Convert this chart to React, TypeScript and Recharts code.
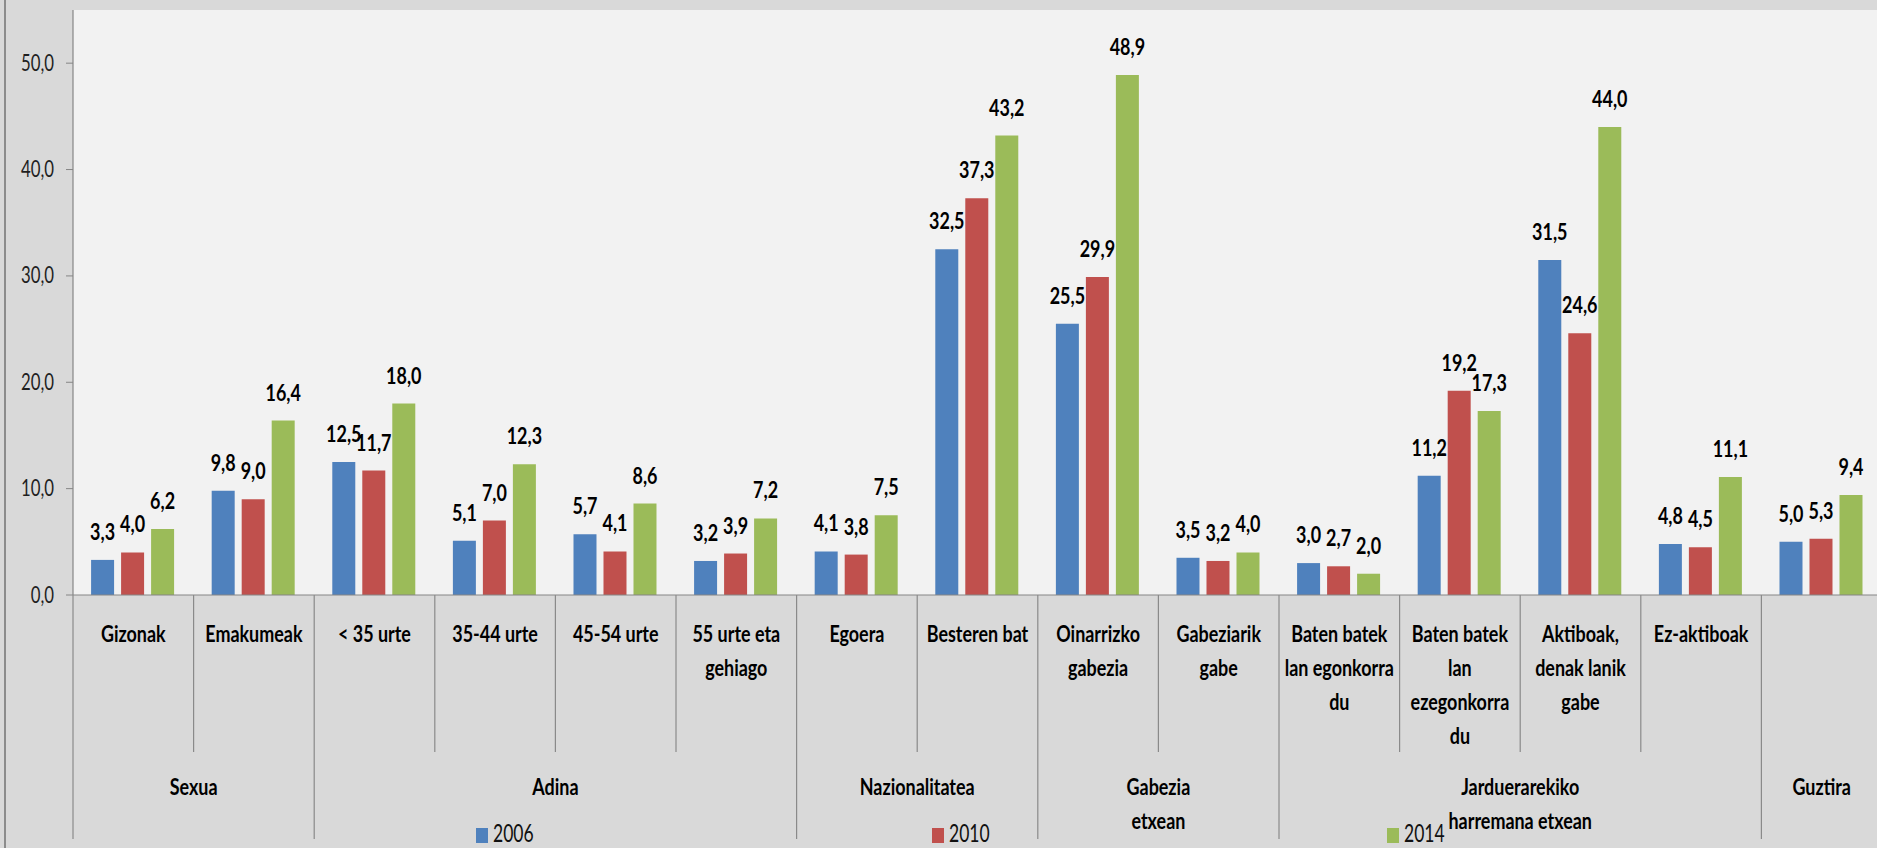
import React from 'react';
import { BarChart, Bar, XAxis, YAxis, CartesianGrid, LabelList } from 'recharts';

// ---------- data ----------
const categories = [
  'Gizonak',
  'Emakumeak',
  '< 35 urte',
  '35-44 urte',
  '45-54 urte',
  '55 urte eta gehiago',
  'Egoera',
  'Besteren bat',
  'Oinarrizko gabezia',
  'Gabeziarik gabe',
  'Baten batek lan egonkorra du',
  'Baten batek lan ezegonkorra du',
  'Aktiboak, denak lanik gabe',
  'Ez-aktiboak',
  '',
];
const categoryLines = [
  ['Gizonak'],
  ['Emakumeak'],
  ['< 35 urte'],
  ['35-44 urte'],
  ['45-54 urte'],
  ['55 urte eta', 'gehiago'],
  ['Egoera'],
  ['Besteren bat'],
  ['Oinarrizko', 'gabezia'],
  ['Gabeziarik', 'gabe'],
  ['Baten batek', 'lan egonkorra', 'du'],
  ['Baten batek', 'lan', 'ezegonkorra', 'du'],
  ['Aktiboak,', 'denak lanik', 'gabe'],
  ['Ez-aktiboak'],
  [''],
];
const groupLines = [
  ['Sexua'],
  ['Adina'],
  ['Nazionalitatea'],
  ['Gabezia', 'etxean'],
  ['Jarduerarekiko', 'harremana etxean'],
  ['Guztira'],
];
const groupSizes = [2, 4, 2, 2, 4, 1];

const v2006 = [3.3, 9.8, 12.5, 5.1, 5.7, 3.2, 4.1, 32.5, 25.5, 3.5, 3.0, 11.2, 31.5, 4.8, 5.0];
const v2010 = [4.0, 9.0, 11.7, 7.0, 4.1, 3.9, 3.8, 37.3, 29.9, 3.2, 2.7, 19.2, 24.6, 4.5, 5.3];
const v2014 = [6.2, 16.4, 18.0, 12.3, 8.6, 7.2, 7.5, 43.2, 48.9, 4.0, 2.0, 17.3, 44.0, 11.1, 9.4];

const seriesNames = ['2006', '2010', '2014'];
const seriesKeys = ['v2006', 'v2010', 'v2014'];
const seriesColors = ['#4f81bd', '#c0504d', '#9bbb59'];

const yTicks = [0, 10, 20, 30, 40, 50];
const yDomain = [0, 55];

const data = categories.map((c, i) => ({
  cat: String(i),
  name: c,
  v2006: v2006[i],
  v2010: v2010[i],
  v2014: v2014[i],
}));

// group start indices
const groupStarts: number[] = [];
{
  let s = 0;
  for (const n of groupSizes) {
    groupStarts.push(s);
    s += n;
  }
}

// ---------- layout ----------
const W = 1890;
const H = 848;
const M = { top: 10, right: 8, left: 0, bottom: 13 };
const Y_W = 73;
const X_H = 240;
const PLOT_W = W - M.left - M.right - Y_W;
const BW = PLOT_W / categories.length;

const FONT = 'Lato, "Open Sans", sans-serif';
const BOLD_SCALE = 0.78;
const REG_SCALE = 0.7;
const LINE = '#8a8a8a';

const fmt = (v: number) => v.toFixed(1).replace('.', ',');

const SqText = ({ x, y, anchor = 'middle', size, weight = 400, scale, fill = '#000', children }: any) => (
  <g transform={`translate(${x},${y}) scale(${scale},1)`}>
    <text x={0} y={0} textAnchor={anchor} fontSize={size} fontWeight={weight} fontFamily={FONT} fill={fill}>
      {children}
    </text>
  </g>
);

const YTick = (props: any) => {
  const { x, y, payload } = props;
  return (
    <SqText x={x} y={y + 7.5} anchor="end" size={24} weight={400} scale={REG_SCALE} fill="#1f1f1f">
      {fmt(payload.value)}
    </SqText>
  );
};

const CatTick = (props: any) => {
  const { x, y, payload } = props;
  const i: number = props.index ?? payload.index;
  const left = x - BW / 2;
  const gi = groupStarts.indexOf(i);
  const isGroupStart = gi >= 0;
  const last = categories.length - 1;
  return (
    <g>
      <line x1={left} x2={left} y1={y} y2={y + (isGroupStart ? 244 : 157)} stroke={LINE} strokeWidth={1.2} />
      {i === last && (
        <line x1={left + BW} x2={left + BW} y1={y} y2={y + 244} stroke={LINE} strokeWidth={1.2} />
      )}
      {categoryLines[i].map((t, k) => (
        <SqText key={k} x={x} y={y + 46.5 + k * 34} size={23} weight={700} scale={BOLD_SCALE}>
          {t}
        </SqText>
      ))}
      {isGroupStart &&
        groupLines[gi].map((t, k) => (
          <SqText
            key={'g' + k}
            x={left + (groupSizes[gi] * BW) / 2}
            y={y + 200 + k * 33.5}
            size={23}
            weight={700}
            scale={BOLD_SCALE}
          >
            {t}
          </SqText>
        ))}
    </g>
  );
};

const BarLabel = (props: any) => {
  const { x, y, width, value } = props;
  return (
    <SqText x={x + width / 2} y={y - 20} size={23} weight={700} scale={BOLD_SCALE}>
      {fmt(value)}
    </SqText>
  );
};

export default function App() {
  return (
    <div
      style={{
        position: 'absolute',
        left: 0,
        top: 0,
        width: 1877,
        height: 848,
        overflow: 'hidden',
        background: '#d9d9d9',
      }}
    >
      <div style={{ position: 'absolute', left: 4, top: 0, width: 2, height: 848, background: '#8c8c8c' }} />
      <div style={{ position: 'absolute', left: 0, top: 0 }}>
        <BarChart width={W} height={H} data={data} margin={M} barCategoryGap="15%" barGap={7}>
          <CartesianGrid fill="#f2f2f2" stroke="none" horizontal={false} vertical={false} />
          <XAxis
            dataKey="cat"
            type="category"
            height={X_H}
            interval={0}
            tickLine={false}
            tickSize={0}
            tickMargin={0}
            axisLine={{ stroke: '#868686', strokeWidth: 1.2 }}
            tick={<CatTick />}
          />
          <YAxis
            width={Y_W}
            domain={yDomain}
            ticks={yTicks}
            allowDataOverflow
            tickSize={7}
            tickMargin={12}
            tickLine={{ stroke: '#868686' }}
            axisLine={{ stroke: '#868686', strokeWidth: 1.2 }}
            tick={<YTick />}
          />
          {seriesKeys.map((k, si) => (
            <Bar key={k} dataKey={k} name={seriesNames[si]} fill={seriesColors[si]} isAnimationActive={false}>
              <LabelList dataKey={k} content={<BarLabel />} />
            </Bar>
          ))}
        </BarChart>
      </div>
      {seriesNames.map((n, si) => (
        <div
          key={n}
          style={{
            position: 'absolute',
            left: 476 + si * 455.5,
            top: 820,
            height: 28,
            display: 'flex',
            alignItems: 'flex-start',
          }}
        >
          <div style={{ width: 12, height: 15, marginTop: 8, background: seriesColors[si] }} />
          <div
            style={{
              marginLeft: 5,
              fontFamily: FONT,
              fontSize: 25,
              lineHeight: '25px',
              color: '#111',
              transform: `scaleX(${REG_SCALE})`,
              transformOrigin: 'left top',
              whiteSpace: 'nowrap',
            }}
          >
            {n}
          </div>
        </div>
      ))}
    </div>
  );
}
